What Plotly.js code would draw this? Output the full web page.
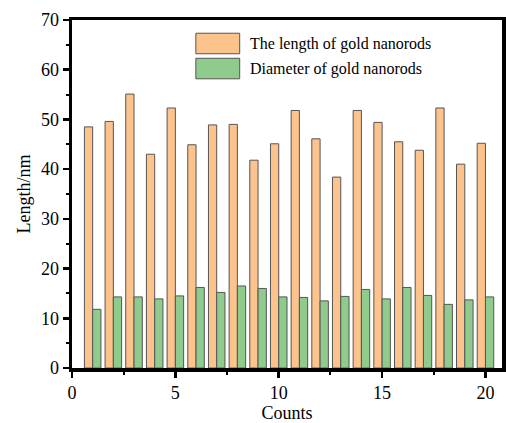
<!DOCTYPE html>
<html><head><meta charset="utf-8">
<script src="https://cdn.plot.ly/plotly-3.0.1.min.js"></script>
<style>html,body{margin:0;padding:0;background:#fff;}#c{width:506px;height:423px;}</style>
</head><body><div id="c"></div>
<script>
const counts = [1,2,3,4,5,6,7,8,9,10,11,12,13,14,15,16,17,18,19,20];
const lengthNm = [48.5,49.6,55.1,43.0,52.3,44.9,48.9,49.0,41.8,45.1,51.8,46.1,38.4,51.8,49.4,45.5,43.8,52.3,41.0,45.2];
const diameterNm = [11.8,14.3,14.3,13.9,14.5,16.2,15.2,16.5,16.0,14.3,14.2,13.5,14.4,15.8,13.9,16.2,14.6,12.8,13.7,14.3];
const seriesNames = ["The length of gold nanorods","Diameter of gold nanorods"];
const colors = ["#FDC38D","#8FCB8D"];
const font = "Times New Roman";

const traces = [
  {type:"bar", x:counts, y:lengthNm, name:seriesNames[0], marker:{color:colors[0], line:{color:"#555", width:1}}, showlegend:false},
  {type:"bar", x:counts, y:diameterNm, name:seriesNames[1], marker:{color:colors[1], line:{color:"#555", width:1}}, showlegend:false}
];

const shapes = [];
const annotations = [];
seriesNames.forEach((n,i)=>{
  const y0 = 0.962 - i*0.072;
  shapes.push({type:"rect", xref:"paper", yref:"paper", x0:0.288, x1:0.39, y0:y0-0.059, y1:y0, fillcolor:colors[i], line:{color:"#555", width:1}});
  annotations.push({xref:"paper", yref:"paper", x:0.41, y:y0-0.03, xanchor:"left", yanchor:"middle", text:n, showarrow:false, font:{family:font, size:16, color:"#000"}});
});

const layout = {
  width:506, height:423,
  margin:{l:72, r:4, t:20, b:55},
  paper_bgcolor:"#fff", plot_bgcolor:"#fff",
  barmode:"group", bargap:0.2, bargroupgap:0,
  font:{family:font, color:"#000"},
  xaxis:{range:[0,20.8], tickvals:[0,5,10,15,20], ticks:"outside", ticklen:6, tickwidth:2.5, tickcolor:"#000",
    minor:{tickvals:[2.5,7.5,12.5,17.5], ticks:"outside", ticklen:3, tickwidth:2, tickcolor:"#000"},
    showline:true, linewidth:3.5, linecolor:"#000", mirror:true, showgrid:false, zeroline:false,
    tickfont:{family:font, size:18}, title:{text:"Counts", font:{family:font, size:18}, standoff:4}},
  yaxis:{range:[0,70], tickvals:[0,10,20,30,40,50,60,70], ticks:"outside", ticklen:6, tickwidth:2.5, tickcolor:"#000",
    minor:{tickvals:[5,15,25,35,45,55,65], ticks:"outside", ticklen:3, tickwidth:2, tickcolor:"#000"},
    showline:true, linewidth:3.5, linecolor:"#000", mirror:true, showgrid:false, zeroline:false,
    tickfont:{family:font, size:18}, title:{text:"Length/nm", font:{family:font, size:18}, standoff:6}},
  shapes:shapes, annotations:annotations
};
Plotly.newPlot("c", traces, layout, {displayModeBar:false, staticPlot:true});
</script></body></html>
